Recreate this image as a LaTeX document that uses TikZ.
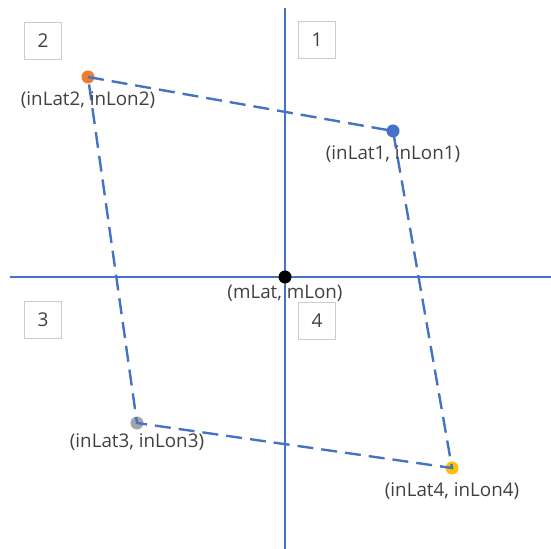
\documentclass[tikz,border=0pt]{standalone}
\usepackage{fontspec}
\setmainfont{Open Sans}
\usetikzlibrary{positioning}
\definecolor{axisblue}{HTML}{4472C4}
\definecolor{ptorange}{HTML}{ED7D31}
\definecolor{ptgray}{HTML}{A5A5A5}
\definecolor{ptyellow}{HTML}{FFC000}
\definecolor{txtgray}{HTML}{404040}
\tikzset{
  quadbox/.style={draw=black!20, fill=white, minimum width=18.5pt, minimum height=18.5pt, inner sep=0pt, text=txtgray, font=\fontsize{9.5}{10}\selectfont},
  dot/.style={circle, inner sep=0pt, minimum size=6.5pt},
  coordlabel/.style={text=txtgray, font=\fontsize{9.4}{10}\selectfont, inner sep=0.5pt},
  edge/.style={axisblue, line width=1.2pt, dash pattern=on 8pt off 4pt},
}
\begin{document}
\begin{tikzpicture}[x=0.5pt, y=-0.5pt]
            \useasboundingbox (0,0) rectangle (551,549);
            % Achsen
            \coordinate (top) at (285,8);
            \coordinate (bottom) at (285,549);
            \coordinate (left) at (10,277);
            \coordinate (right) at (551,277);
            \draw[axisblue, line width=1.2pt] (top) -- (bottom);
            \draw[axisblue, line width=1.2pt] (left) -- (right);

            % Quadranten
            \node[quadbox] (q1) at (317,40) {1};
            \node[quadbox] (q2) at (43,41) {2};
            \node[quadbox] (q3) at (43,320) {3};
            \node[quadbox] (q4) at (317,321) {4};

            % Punkte
            \node[dot, fill=axisblue] (p1) at (393,131) {};
            \node[dot, fill=ptorange] (p2) at (88,77) {};
            \node[dot, fill=ptgray] (p3) at (137,423) {};
            \node[dot, fill=ptyellow] (p4) at (452,468) {};

            % Viereck
            \draw[edge] (p2.center) -- (p1.center) -- (p4.center) -- (p3.center) -- cycle;

            \node[dot, fill=black] (m) at (285,277) {};

            % Beschriftungen
            \node[coordlabel, below=0pt of m] {(mLat, mLon)};
            \node[coordlabel, below=3pt of p1] {(inLat1, inLon1)};
            \node[coordlabel, below=3pt of p2] {(inLat2, inLon2)};
            \node[coordlabel, below=1pt of p3] {(inLat3, inLon3)};
            \node[coordlabel, below=3pt of p4] {(inLat4, inLon4)};
        \end{tikzpicture}
\end{document}
